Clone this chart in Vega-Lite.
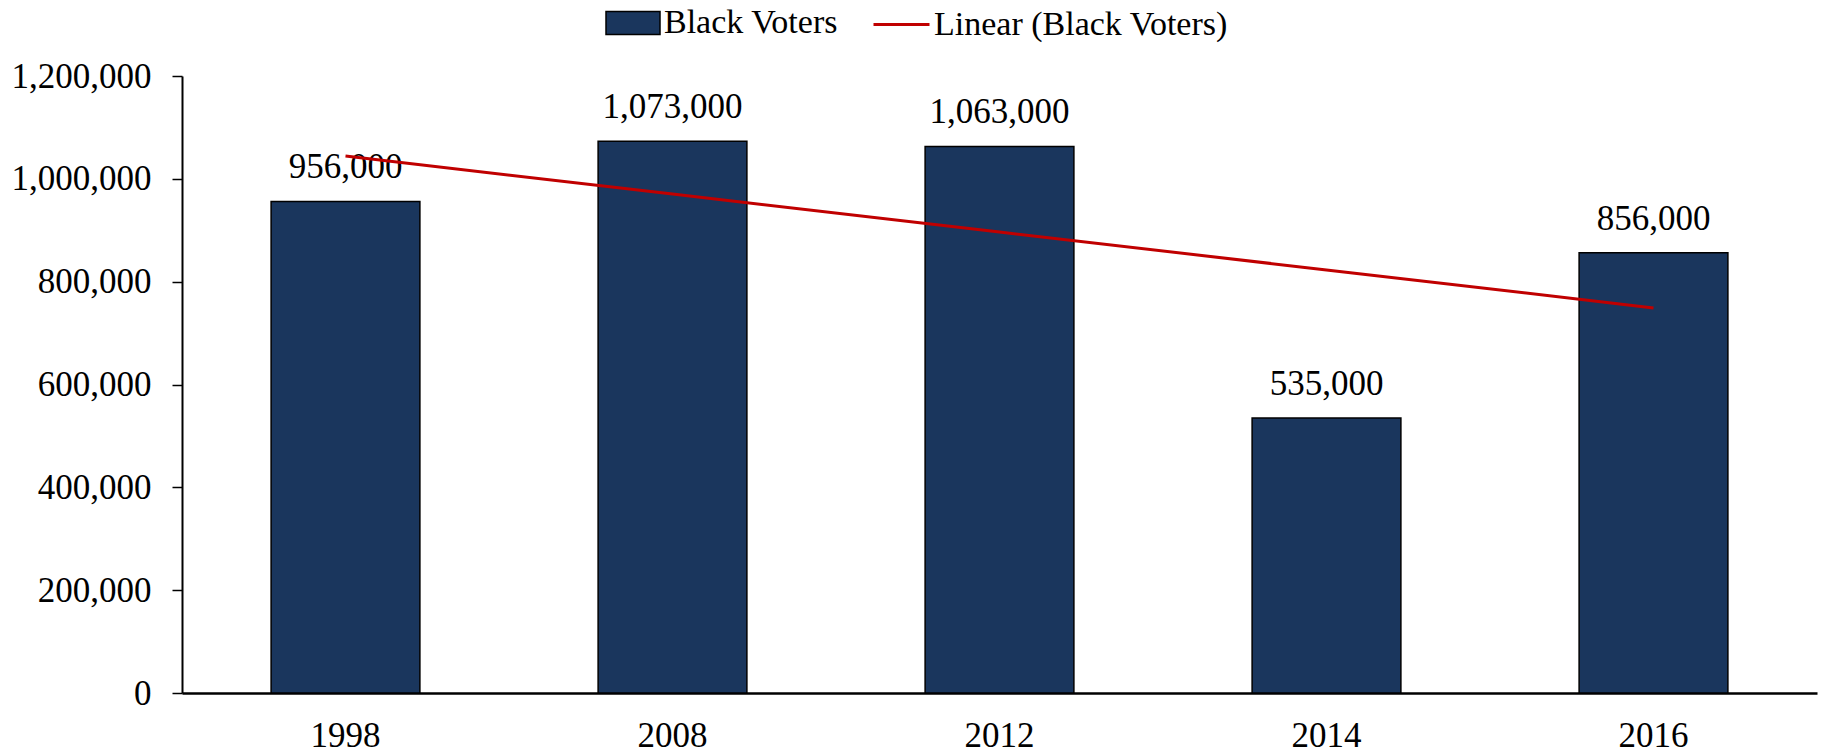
{
  "$schema": "https://vega.github.io/schema/vega-lite/v6.json",
  "width": 1635,
  "height": 617,
  "autosize": {"type": "none"},
  "padding": {"left": 182, "top": 76, "right": 9, "bottom": 61},
  "background": "white",
  "config": {"view": {"stroke": null}, "font": "Liberation Serif"},
  "data": {
    "values": [
      {"year": "1998", "voters": 956000, "trend": 1044200},
      {"year": "2008", "voters": 1073000, "trend": 970400},
      {"year": "2012", "voters": 1063000, "trend": 896600},
      {"year": "2014", "voters": 535000, "trend": 822800},
      {"year": "2016", "voters": 856000, "trend": 749000}
    ]
  },
  "encoding": {
    "x": {
      "field": "year",
      "type": "nominal",
      "sort": null,
      "scale": {"paddingInner": 0.545, "paddingOuter": 0.2725},
      "axis": {
        "title": null,
        "labelAngle": 0,
        "ticks": false,
        "tickSize": 0,
        "domainColor": "black",
        "domainWidth": 2.5,
        "labelFontSize": 35,
        "labelFont": "Liberation Serif",
        "labelPadding": 25,
        "labelColor": "black"
      }
    },
    "y": {
      "field": "voters",
      "type": "quantitative",
      "scale": {"domain": [0, 1200000], "nice": false},
      "axis": {
        "title": null,
        "values": [0, 200000, 400000, 600000, 800000, 1000000, 1200000],
        "format": ",d",
        "grid": false,
        "domainColor": "black",
        "domainWidth": 2,
        "tickColor": "black",
        "tickSize": 10,
        "tickWidth": 1.5,
        "labelFontSize": 35,
        "labelFont": "Liberation Serif",
        "labelColor": "black",
        "labelPadding": 21
      }
    }
  },
  "layer": [
    {
      "mark": {"type": "bar", "stroke": "black", "strokeWidth": 1.5},
      "encoding": {
        "fill": {
          "datum": "Black Voters",
          "scale": {"range": ["#1a365d"]},
          "legend": {
            "orient": "none",
            "legendX": 423,
            "legendY": -81,
            "title": null,
            "symbolType": "M-1,-0.43H1V0.43H-1Z",
            "symbolSize": 2916,
            "symbolStrokeColor": "black",
            "symbolStrokeWidth": 1.5,
            "symbolFillColor": "#1a365d",
            "labelFontSize": 34,
            "labelFont": "Liberation Serif",
            "labelColor": "black",
            "labelOffset": 3,
            "labelLimit": 0,
            "padding": 0
          }
        }
      }
    },
    {
      "mark": {"type": "text", "baseline": "alphabetic", "dy": -23, "fontSize": 35, "font": "Liberation Serif", "color": "black"},
      "encoding": {
        "text": {"field": "voters", "type": "quantitative", "format": ",d"}
      }
    },
    {
      "mark": {"type": "line", "strokeWidth": 3},
      "encoding": {
        "y": {"field": "trend", "type": "quantitative", "axis": {"title": null}},
        "stroke": {
          "datum": "Linear (Black Voters)",
          "scale": {"range": ["#c00000"]},
          "legend": {
            "orient": "none",
            "legendX": 690,
            "legendY": -81,
            "title": null,
            "symbolType": "stroke",
            "symbolSize": 3136,
            "symbolStrokeWidth": 3,
            "symbolStrokeColor": "#c00000",
            "labelFontSize": 34,
            "labelFont": "Liberation Serif",
            "labelColor": "black",
            "labelOffset": 3,
            "labelLimit": 0,
            "padding": 0
          }
        }
      }
    }
  ]
}
